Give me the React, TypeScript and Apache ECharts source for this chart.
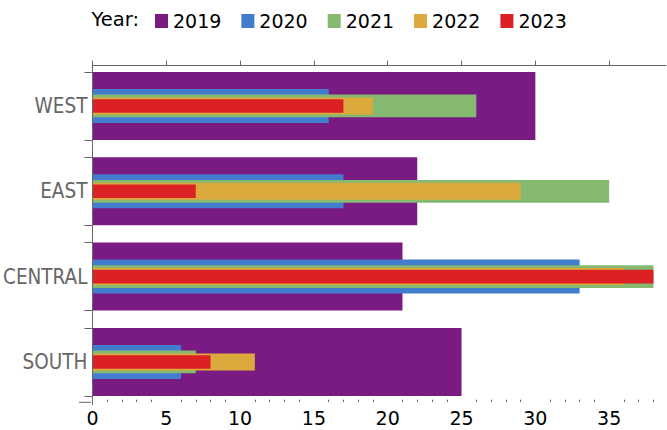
import React, { useEffect, useRef } from "react";
import * as echarts from "echarts";

const regions = ["WEST", "EAST", "CENTRAL", "SOUTH"];
const years = ["2019", "2020", "2021", "2022", "2023"];
const v2019 = [30, 22, 21, 25];
const v2020 = [16, 17, 33, 6];
const v2021 = [26, 35, 38, 7];
const v2022 = [19, 29, 36, 11];
const v2023 = [17, 7, 38, 8];
const seriesValues = [v2019, v2020, v2021, v2022, v2023];
const majorTicks = [0, 5, 10, 15, 20, 25, 30, 35];
const minorTicks = [1, 2, 3, 4, 6, 7, 8, 9, 11, 12, 13, 14, 16, 17, 18, 19, 21, 22, 23, 24, 26, 27, 28, 29, 31, 32, 33, 34, 36, 37, 38];
const bandEdgeTicks = [0.1016, 0.8984, 1.1016, 1.8984, 2.1016, 2.8984, 3.1016, 3.8984];

const colors = ["#7a1b84", "#427dcd", "#85b970", "#dcaa3c", "#dc2124"];
const barWidths = [68, 34, 22.7, 17, 13.6];

export default function App() {
  const ref = useRef<HTMLDivElement>(null);
  useEffect(() => {
    if (!ref.current) return;
    const chart = echarts.init(ref.current, null, { renderer: "svg" });
    const axisGray = "#666666";
    const yCat = (i: number) => ({
      type: "category",
      data: regions,
      inverse: true,
      gridIndex: 0,
      position: "left",
      axisLine: { show: false },
      axisTick: { show: false },
      axisLabel: {
        show: i === 0,
        color: "#666666",
        fontSize: 20.5,
        fontFamily: "'DejaVu Sans Condensed', 'DejaVu Sans', sans-serif",
        margin: 5,
      },
      splitLine: { show: false },
    });
    chart.setOption({
      animation: false,
      grid: { left: 91, right: 1, top: 63.3, height: 341.3, containLabel: false },
      legend: {
        data: years,
        left: 155,
        top: 11.5,
        padding: 0,
        icon: "rect",
        itemWidth: 13,
        itemHeight: 14,
        itemGap: 20,
        textStyle: { fontSize: 19, color: "#000", fontFamily: "'DejaVu Sans', sans-serif" },
      },
      xAxis: [
        {
          type: "value",
          min: 0,
          max: 38.85,
          position: "bottom",
          offset: -2.4,
          z: 5,
          axisLine: { show: true, lineStyle: { color: axisGray, width: 1 } },
          axisTick: { show: true, inside: true, length: 5, customValues: majorTicks, lineStyle: { color: axisGray } },
          axisLabel: {
            customValues: majorTicks,
            color: "#000",
            fontSize: 19,
            fontFamily: "'DejaVu Sans', sans-serif",
            margin: 6,
          },
          splitLine: { show: false },
        },
        {
          type: "value",
          min: 0,
          max: 38.85,
          position: "bottom",
          offset: -2.4,
          z: 5,
          axisLine: { show: false },
          axisTick: { show: true, inside: true, length: 2.5, customValues: minorTicks, lineStyle: { color: axisGray } },
          axisLabel: { show: false },
          splitLine: { show: false },
        },
      ],
      yAxis: [
        yCat(0),
        yCat(1),
        yCat(2),
        yCat(3),
        yCat(4),
        {
          type: "value",
          min: 0,
          max: 4,
          inverse: true,
          position: "left",
          z: 5,
          axisLine: { show: true, onZero: false, lineStyle: { color: axisGray, width: 1 } },
          axisTick: { show: true, inside: false, length: 8, customValues: bandEdgeTicks, lineStyle: { color: axisGray } },
          axisLabel: { show: false },
          splitLine: { show: false },
        },
      ],
      series: years.map((y, i) => ({
        name: y,
        type: "bar",
        xAxisIndex: 0,
        yAxisIndex: i,
        data: seriesValues[i],
        barWidth: barWidths[i],
        itemStyle: { color: colors[i] },
        emphasis: { disabled: true },
      })),
      color: colors,
      graphic: [
        {
          type: "text",
          left: 91.5,
          top: 9.5,
          style: {
            text: "Year:",
            fontSize: 19.5,
            fontFamily: "'DejaVu Sans', sans-serif",
            fill: "#000",
          },
        },
        {
          type: "line",
          shape: { x1: 79, y1: 402.3, x2: 91, y2: 402.3 },
          style: { stroke: axisGray, lineWidth: 1 },
        },
      ],
    });
    return () => chart.dispose();
  }, []);
  return (
    <div
      ref={ref}
      style={{ position: "fixed", left: 0, top: 0, width: 667, height: 430, background: "#fff" }}
    />
  );
}
